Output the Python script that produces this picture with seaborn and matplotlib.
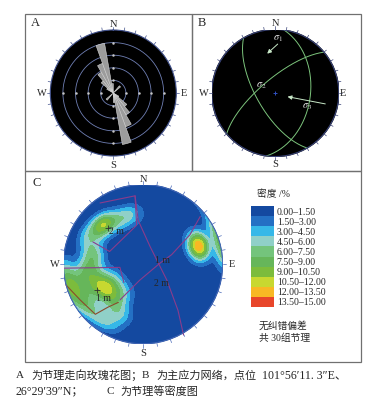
import numpy as np
import matplotlib
matplotlib.use("Agg")
import matplotlib.pyplot as plt
from matplotlib.colors import ListedColormap
from matplotlib.patches import Circle, Rectangle
import seaborn as sns

# ---------------- data ----------------
# A: joint strike rose, 10 degree bins (bin start azimuth, length as fraction of net radius)
rose_az = [300, 310, 320, 330, 340, 350, 40, 120, 130, 140, 150, 160, 170, 220]
rose_len = [0.12, 0.25, 0.38, 0.50, 0.80, 0.15, 0.15, 0.10, 0.28, 0.40, 0.57, 0.83, 0.15, 0.15]
rose_rings = [0.2, 0.4, 0.6, 0.8]

# B: principal stress great circles (dip direction, dip) and stress arrows (net coords)
plane_dd = [98, 240, 320]
plane_dip = [44, 66, 72]
arrow_start = [(0.07, 0.80), (0.83, -0.18)]
arrow_end = [(-0.16, 0.59), (0.15, -0.05)]
sigma_names = [r"$\sigma_1$", r"$\sigma_2$", r"$\sigma_3$"]
sigma_x = [0.05, -0.22, 0.50]
sigma_y = [0.86, 0.12, -0.21]

# C: 30 joint poles (equal-area net coords, x east, y north)
pole_x = [0.698, 0.702, 0.696, 0.700,
          -0.503, -0.478, -0.528, -0.289, -0.151, -0.704, -0.642,
          -0.520, -0.490, -0.380, -0.650, -0.420, -0.630,
          -0.800, -0.840, -0.910, -0.760, -0.960, -0.975,
          -0.340, -0.300, -0.450, -0.630, -0.600, -0.700, -0.260]
pole_y = [0.229, 0.231, 0.227, 0.232,
          0.493, 0.518, 0.468, 0.556, 0.631, 0.355, 0.179,
          -0.250, -0.290, -0.200, -0.380, -0.380, -0.180,
          -0.160, -0.310, -0.420, -0.480, -0.220, -0.100,
          -0.500, -0.640, -0.740, -0.610, 0.060, -0.050, -0.350]

density_levels = [0, 1.5, 3, 4.5, 6, 7.5, 9, 10.5, 12, 13.5, 15]
density_labels = ["0.00–1.50", "1.50–3.00", "3.00–4.50", "4.50–6.00", "6.00–7.50",
                  "7.50–9.00", "9.00–10.50", "10.50–12.00", "12.00–13.50", "13.50–15.00"]
density_colors = ["#1449a0", "#2470c4", "#36b8e8", "#90d0c8", "#74c47c",
                  "#66b65a", "#7cbc3c", "#c8d830", "#f8b824", "#e8462a"]

# window / cone outlines in C
purple_lines = [
    [(-0.54, 0.77), (-0.10, 0.86), (-0.08, 0.49), (-0.42, 0.16), (-0.63, 0.28)],
    [(-0.10, 0.86), (-0.06, 0.55), (0.09, 0.22), (0.30, -0.20), (0.44, -0.58), (0.51, -0.89)],
    [(0.72, 0.60), (0.59, 0.37), (0.36, 0.12), (0.21, 0.01), (-0.04, -0.20), (-0.29, -0.45)],
    [(-1.0, -0.05), (-0.29, -0.04), (-0.24, -0.23)],
]
brown_line = [(-0.97, -0.26), (-0.79, -0.45), (-0.60, -0.63), (-0.44, -0.54), (-0.31, -0.48)]
cross_x = [-0.44, -0.58]
cross_y = [0.46, -0.33]
c_labels = ["2 m", "1 m", "2 m", "1 m"]
c_label_x = [-0.33, 0.25, 0.235, -0.50]
c_label_y = [0.41, 0.044, -0.24, -0.43]

caption_runs = [
    ("A", 16, 375), ("为节理走向玫瑰花图；", 31, 375), ("B", 141.5, 375),
    ("为主应力网络，点位", 156, 375), ("101°56′11. 3″E、", 262, 375),
    ("26°29′39″N；", 16, 391.7), ("C", 106.5, 391.7), ("为节理等密度图", 120, 391.7),
]

# ---------------- style ----------------
sns.set_style("white")
plt.rcParams["font.family"] = ["Liberation Serif", "Noto Sans CJK SC"]
plt.rcParams["mathtext.fontset"] = "stix"

W, H = 379, 408
fig = plt.figure(figsize=(W / 100, H / 100), dpi=100)


def px_axes(cx, cy, r, **kw):
    return fig.add_axes([(cx - r) / W, 1 - (cy + r) / H, 2 * r / W, 2 * r / H], **kw)


def net_to_vec(x, y):
    r = np.clip(np.hypot(x, y), 0, 1)
    th = 2 * np.arcsin(r / np.sqrt(2))
    az = np.arctan2(x, y)
    return np.stack([np.sin(th) * np.sin(az), np.sin(th) * np.cos(az), -np.cos(th)], -1)


def great_circle(dd, dip, n=200):
    dd, dip = np.radians(dd), np.radians(dip)
    t = np.linspace(0, np.pi, n)
    strike = np.array([np.sin(dd - np.pi / 2), np.cos(dd - np.pi / 2), 0])
    down = np.array([np.sin(dd) * np.cos(dip), np.cos(dd) * np.cos(dip), -np.sin(dip)])
    v = np.outer(np.cos(t), strike) + np.outer(np.sin(t), down)
    th = np.arccos(np.clip(-v[:, 2], -1, 1))
    az = np.arctan2(v[:, 0], v[:, 1])
    r = np.sqrt(2) * np.sin(th / 2)
    return r * np.sin(az), r * np.cos(az)


def edge_ticks(ax, color):
    for a in np.radians(np.arange(0, 360, 10)):
        ax.plot([np.sin(a), 1.05 * np.sin(a)], [np.cos(a), 1.05 * np.cos(a)],
                color=color, lw=0.5, clip_on=False)


def compass(ax, n, s, w, e, size=7.5):
    kw = dict(ha="center", va="center", fontsize=size, clip_on=False)
    ax.text(0, n, "N", **kw)
    ax.text(0, s, "S", **kw)
    ax.text(w, 0, "W", **kw)
    ax.text(e, 0, "E", **kw)


# frames
for x0, y0, x1, y1 in [(25, 14, 192, 171), (192, 14, 361, 171), (25, 171, 361, 362)]:
    fig.add_artist(Rectangle((x0 / W, 1 - y1 / H), (x1 - x0) / W, (y1 - y0) / H,
                             transform=fig.transFigure, fill=False, ec="#707070", lw=0.9))

# ---------------- A: rose ----------------
axA = px_axes(113.3, 93, 63, projection="polar")
axA.set_theta_zero_location("N")
axA.set_theta_direction(-1)
axA.set_facecolor("black")
axA.set_ylim(0, 1)
axA.grid(False)
axA.set_xticks([])
axA.set_yticks([])
axA.spines["polar"].set_color("#40508a")
full = np.linspace(0, 2 * np.pi, 240)
for rr in rose_rings:
    axA.plot(full, [rr] * len(full), color="#6f7fb4", lw=0.6)
axA.bar(np.radians(np.array(rose_az) + 5), rose_len, width=np.radians(10),
        color="#9c9c9c", edgecolor="#d6d6d6", lw=0.4, zorder=3)
for t in [0, np.pi / 2, np.pi, 1.5 * np.pi]:
    axA.scatter([t] * len(rose_rings), rose_rings, s=0.6, color="#c8c8c8", zorder=2)
for a in np.radians(np.arange(0, 360, 10)):
    axA.plot([a, a], [1, 1.05], color="#40508a", lw=0.5, clip_on=False)
kw = dict(ha="center", va="center", fontsize=7.5, transform=axA.transAxes, clip_on=False)
axA.text(0.5, 0.5 + 1.095 / 2, "N", **kw)
axA.text(0.5, 0.5 - 1.154 / 2, "S", **kw)
axA.text(0.5 - 1.14 / 2, 0.5, "W", **kw)
axA.text(0.5 + 1.12 / 2, 0.5, "E", **kw)
fig.text(35 / W, 1 - 23 / H, "A", fontsize=9, ha="center", va="center")

# ---------------- B: stress net ----------------
axB = px_axes(275.3, 93, 63.5)
axB.set_xlim(-1, 1)
axB.set_ylim(-1, 1)
axB.axis("off")
axB.add_patch(Circle((0, 0), 1, color="black", zorder=0))
axB.add_patch(Circle((0, 0), 1, fill=False, ec="#3a4478", lw=0.8, zorder=5))
for dd, dp in zip(plane_dd, plane_dip):
    gx, gy = great_circle(dd, dp)
    sns.lineplot(x=gx, y=gy, sort=False, estimator=None, ax=axB,
                 color="#7cc47c", lw=0.7, zorder=2)
for (x0, y0), (x1, y1) in zip(arrow_start, arrow_end):
    axB.annotate("", xy=(x1, y1), xytext=(x0, y0),
                 arrowprops=dict(arrowstyle="-|>", color="#c8e8c8", lw=0.7,
                                 mutation_scale=6), zorder=3)
for s, x, y in zip(sigma_names, sigma_x, sigma_y):
    axB.text(x, y, s, color="#dddddd", fontsize=7.5, ha="center", va="center", zorder=4)
axB.plot([0], [0], marker="+", color="#3050c0", ms=3, mew=0.7)
edge_ticks(axB, "#3a4478")
compass(axB, 1.087, -1.13, -1.13, 1.07)
fig.text(201.7 / W, 1 - 23 / H, "B", fontsize=9, ha="center", va="center")

# ---------------- C: contour density ----------------
axC = px_axes(143, 264.2, 79.5)
axC.set_xlim(-1, 1)
axC.set_ylim(-1, 1)
axC.axis("off")
clip = Circle((0, 0), 1, transform=axC.transData)
axC.add_patch(Circle((0, 0), 1, color=density_colors[0], zorder=0))

gx = np.linspace(-1.02, 1.02, 301)
X, Y = np.meshgrid(gx, gx)
G = net_to_vec(X, Y)
P = net_to_vec(np.array(pole_x), np.array(pole_y))
cosang = np.abs(G @ P.T)
D = 100.0 / len(pole_x) * np.exp(45 * (cosang - 1)).sum(-1)
levels = density_levels[:-1] + [1000]
cs = axC.contourf(X, Y, D, levels=levels, colors=density_colors, zorder=1)
cs.set_clip_path(clip)

for line in purple_lines:
    xs, ys = zip(*line)
    axC.plot(xs, ys, color="#8a3c8c", lw=0.8, zorder=3)
bx, by = zip(*brown_line)
axC.plot(bx, by, color="#8b4a2b", lw=0.8, zorder=3)
axC.scatter(cross_x, cross_y, marker="+", s=25, color="#333333", lw=0.6, zorder=4)
for s, x, y in zip(c_labels, c_label_x, c_label_y):
    axC.text(x, y, s, fontsize=7, ha="center", va="center", zorder=5)
axC.add_patch(Circle((0, 0), 1, fill=False, ec="#4a6ab8", lw=0.6, zorder=5))
edge_ticks(axC, "#4a6ab8")
compass(axC, 1.07, -1.12, -1.11, 1.115)
fig.text(36.7 / W, 1 - 183 / H, "C", fontsize=9, ha="center", va="center")

# legend as a seaborn heatmap
lax = fig.add_axes([251 / W, 1 - 307 / H, 23 / W, 101 / H])
sns.heatmap(np.arange(10).reshape(-1, 1), cmap=ListedColormap(density_colors),
            vmin=-0.5, vmax=9.5, cbar=False, ax=lax,
            xticklabels=False, yticklabels=density_labels)
lax.yaxis.tick_right()
lax.tick_params(length=0, pad=2, labelsize=7)
plt.setp(lax.get_yticklabels(), rotation=0)
fig.text(257 / W, 1 - 194 / H, "密度 /%", fontsize=7, ha="left", va="center")
fig.text(259 / W, 1 - 326 / H, "无纠错偏差", fontsize=7, ha="left", va="center")
fig.text(259 / W, 1 - 338 / H, "共 30组节理", fontsize=7, ha="left", va="center")

# caption
for s, x, y in caption_runs:
    size = 8.6 if s[0].isdigit() else 8
    fig.text(x / W, 1 - y / H, s, fontsize=size, ha="left", va="center")

fig.savefig("out.png", dpi=100)
